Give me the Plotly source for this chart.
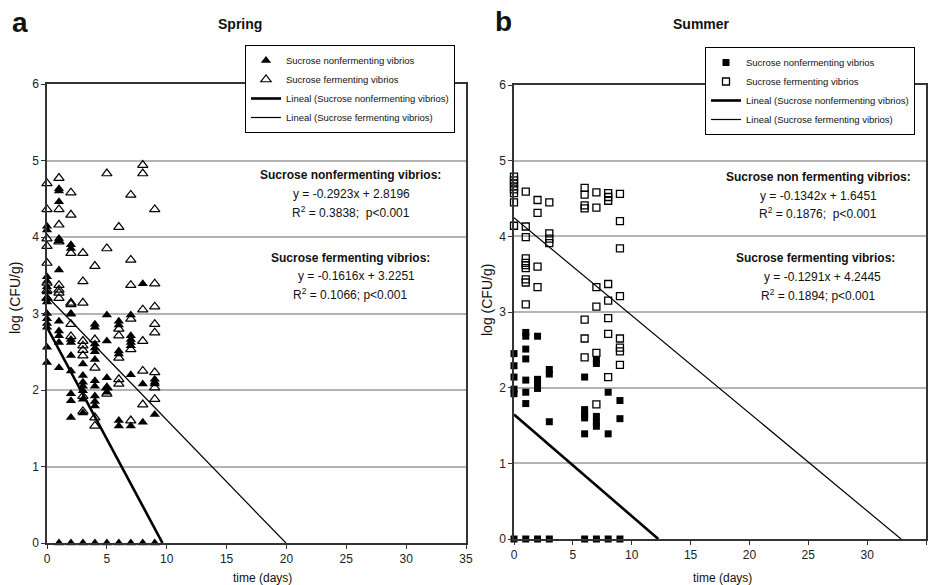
import plotly.graph_objects as go

# ---------------- DATA ----------------
# Panel a (Spring): sucrose nonfermenting vibrios (closed triangles)
spring_nonferm_day = (
    [0]*14 + [1]*12 + [2]*12 + [3]*8 + [4]*12 + [5]*6 + [6]*7 + [7]*8 + [8]*4 + [9]*5
)
spring_nonferm_log = [
    4.14, 4.09, 3.48, 3.42, 3.35, 3.28, 3.20, 3.15, 3.00, 2.93, 2.87, 2.82, 2.56, 2.36,
    4.63, 4.60, 4.46, 3.98, 3.95, 3.57, 2.90, 2.77, 2.71, 2.62, 2.29, 0,
    3.90, 3.85, 3.00, 2.99, 2.66, 2.62, 2.45, 2.25, 1.95, 1.86, 1.64, 0,
    2.34, 2.19, 2.10, 2.05, 1.99, 1.88, 1.70, 0,
    2.86, 2.82, 2.60, 2.55, 2.50, 2.40, 2.12, 2.05, 1.92, 1.85, 1.79, 0,
    2.98, 2.64, 2.16, 2.03, 1.97, 0,
    2.90, 2.85, 2.51, 2.47, 1.60, 1.53, 0,
    2.98, 2.71, 2.66, 2.62, 2.58, 2.20, 1.53, 0,
    3.39, 2.08, 1.58, 0,
    2.14, 2.10, 2.08, 1.68, 0,
]
# Panel a (Spring): sucrose fermenting vibrios (open triangles)
spring_ferm_day = (
    [0]*8 + [1]*8 + [2]*7 + [3]*9 + [4]*5 + [5]*4 + [6]*6 + [7]*6 + [8]*6 + [9]*8
)
spring_ferm_log = [
    4.70, 4.36, 3.98, 3.88, 3.66, 3.40, 3.30, 3.20,
    4.77, 4.36, 4.16, 3.94, 3.37, 3.31, 3.27, 3.20,
    4.58, 4.29, 3.79, 3.14, 3.12, 2.86, 2.70,
    3.79, 3.42, 3.14, 2.64, 2.58, 2.52, 2.45, 1.92, 1.72,
    3.62, 2.66, 2.29, 1.64, 1.53,
    4.83, 3.85, 2.03, 1.95,
    4.13, 2.80, 2.71, 2.42, 2.14, 2.08,
    4.55, 3.70, 3.37, 2.93, 2.53, 1.60,
    4.94, 4.83, 3.05, 2.64, 2.25, 1.81,
    4.36, 3.39, 3.09, 2.86, 2.75, 2.23, 2.03, 1.88,
]
# Panel b (Summer): sucrose nonfermenting vibrios (closed squares)
summer_nonferm_day = (
    [0]*6 + [1]*8 + [2]*5 + [3]*4 + [6]*6 + [7]*6 + [8]*3 + [9]*3
)
summer_nonferm_log = [
    2.45, 2.29, 2.14, 1.98, 1.92, 0,
    2.73, 2.68, 2.51, 2.38, 2.10, 1.94, 1.79, 0,
    2.68, 2.11, 2.06, 1.99, 0,
    2.24, 2.18, 1.55, 0,
    2.14, 1.71, 1.65, 1.60, 1.39, 0,
    2.37, 2.32, 1.62, 1.54, 1.49, 0,
    1.94, 1.39, 0,
    1.83, 1.59, 0,
]
# Panel b (Summer): sucrose fermenting vibrios (open squares)
summer_ferm_day = (
    [0]*8 + [1]*10 + [2]*4 + [3]*4 + [6]*7 + [7]*6 + [8]*8 + [9]*8
)
summer_ferm_log = [
    4.79, 4.74, 4.70, 4.66, 4.62, 4.57, 4.45, 4.14,
    4.59, 4.13, 3.99, 3.71, 3.65, 3.62, 3.58, 3.43, 3.39, 3.10,
    4.48, 4.31, 3.60, 3.33,
    4.45, 4.04, 3.97, 3.91,
    4.64, 4.55, 4.41, 4.37, 2.90, 2.65, 2.40,
    4.58, 4.38, 3.33, 3.07, 2.46, 1.78,
    4.57, 4.52, 4.47, 3.37, 3.15, 2.92, 2.71, 2.14,
    4.56, 4.20, 3.84, 3.21, 2.65, 2.53, 2.48, 2.30,
]

# Printed linear trend coefficients (slope, intercept)
spring_nonferm_fit = (-0.2923, 2.8196)
spring_ferm_fit = (-0.1616, 3.2251)
summer_nonferm_fit = (-0.1342, 1.6451)
summer_ferm_fit = (-0.1291, 4.2445)

x_ticks = [0, 5, 10, 15, 20, 25, 30, 35]
y_ticks = [0, 1, 2, 3, 4, 5, 6]

# ---------------- FIGURE ----------------
W, H = 930, 585
FONT = "Liberation Sans, Arial, sans-serif"


def px(x):
    return x / W


def py(y):
    return 1 - y / H


def trend(fit):
    m, b = fit
    x0, x1 = 0, -b / m
    return [x0, x1], [m * x0 + b, m * x1 + b]


fig = go.Figure()

# Panel a
fig.add_trace(go.Scatter(
    x=spring_nonferm_day, y=spring_nonferm_log, mode="markers",
    name="Sucrose nonfermenting vibrios",
    marker=dict(symbol="triangle-up", size=9, color="black"),
    xaxis="x", yaxis="y", legend="legend", cliponaxis=False))
fig.add_trace(go.Scatter(
    x=spring_ferm_day, y=spring_ferm_log, mode="markers",
    name="Sucrose fermenting vibrios",
    marker=dict(symbol="triangle-up-open", size=9, color="black", line=dict(width=1.2)),
    xaxis="x", yaxis="y", legend="legend", cliponaxis=False))
tx, ty = trend(spring_nonferm_fit)
fig.add_trace(go.Scatter(
    x=tx, y=ty, mode="lines", name="Lineal (Sucrose nonfermenting vibrios)",
    line=dict(color="black", width=2.6), xaxis="x", yaxis="y", legend="legend"))
tx, ty = trend(spring_ferm_fit)
fig.add_trace(go.Scatter(
    x=tx, y=ty, mode="lines", name="Lineal (Sucrose fermenting vibrios)",
    line=dict(color="black", width=1.2), xaxis="x", yaxis="y", legend="legend"))

# Panel b
fig.add_trace(go.Scatter(
    x=summer_nonferm_day, y=summer_nonferm_log, mode="markers",
    name="Sucrose nonfermenting vibrios",
    marker=dict(symbol="square", size=7, color="black"),
    xaxis="x2", yaxis="y2", legend="legend2", cliponaxis=False))
fig.add_trace(go.Scatter(
    x=summer_ferm_day, y=summer_ferm_log, mode="markers",
    name="Sucrose fermenting vibrios",
    marker=dict(symbol="square-open", size=7, color="black", line=dict(width=1.3)),
    xaxis="x2", yaxis="y2", legend="legend2", cliponaxis=False))
tx, ty = trend(summer_nonferm_fit)
fig.add_trace(go.Scatter(
    x=tx, y=ty, mode="lines", name="Lineal (Sucrose nonfermenting vibrios)",
    line=dict(color="black", width=2.6), xaxis="x2", yaxis="y2", legend="legend2"))
tx, ty = trend(summer_ferm_fit)
fig.add_trace(go.Scatter(
    x=tx, y=ty, mode="lines", name="Lineal (Sucrose fermenting vibrios)",
    line=dict(color="black", width=1.2), xaxis="x2", yaxis="y2", legend="legend2"))

axis_common = dict(
    showline=True, linecolor="#333333", linewidth=1.5, mirror=True,
    ticks="outside", ticklen=4, tickcolor="#333333", tickwidth=1,
    tickfont=dict(family=FONT, size=12, color="#222222"),
    zeroline=False, automargin=False,
)
xcommon = dict(axis_common, range=[0, 35], tickvals=x_ticks, showgrid=False)
ycommon = dict(axis_common, range=[0, 6], tickvals=y_ticks, showgrid=True,
               gridcolor="#b4b4b4", gridwidth=1.5)

legend_common = dict(
    bgcolor="white", bordercolor="black", borderwidth=1,
    font=dict(family=FONT, size=9.5, color="#111111"),
    xanchor="right", yanchor="top", tracegroupgap=0, itemwidth=30,
)

fig.update_layout(
    width=W, height=H,
    margin=dict(l=0, r=0, t=0, b=0, autoexpand=False),
    paper_bgcolor="white", plot_bgcolor="white",
    font=dict(family=FONT, color="#111111"),
    xaxis=dict(xcommon, domain=[px(47), px(466)], anchor="y"),
    yaxis=dict(ycommon, domain=[py(543), py(84)], anchor="x"),
    xaxis2=dict(xcommon, domain=[px(514), px(926)], anchor="y2"),
    yaxis2=dict(ycommon, domain=[py(539), py(85)], anchor="x2"),
    legend=dict(legend_common, x=px(455), y=py(45)),
    legend2=dict(legend_common, x=px(915), y=py(47)),
    showlegend=True,
)

ann = []


def text(x, y, s, size=12, bold=False, angle=0, xanchor="center"):
    if bold:
        s = "<b>" + s + "</b>"
    ann.append(dict(x=px(x), y=py(y), xref="paper", yref="paper", text=s,
                    showarrow=False, xanchor=xanchor, yanchor="middle",
                    textangle=angle,
                    font=dict(family=FONT, size=size, color="#111111")))


# Panel labels and titles
text(20, 23, "a", size=28, bold=True)
text(503, 22, "b", size=28, bold=True)
text(240, 24, "Spring", size=14, bold=True)
text(701, 24, "Summer", size=14, bold=True)

# Axis titles
text(15, 298, "log (CFU/g)", size=14, angle=-90)
text(487, 300, "log (CFU/g)", size=14, angle=-90)
text(262, 578, "time (days)", size=12)
text(722, 578, "time (days)", size=12)

# Regression text, panel a
text(350, 175, "Sucrose nonfermenting vibrios:", size=12, bold=True)
text(351, 194, "y = -0.2923x + 2.8196", size=12)
text(351, 212, "R<sup>2</sup> = 0.3838;  p&lt;0.001", size=12)
text(350, 258, "Sucrose fermenting vibrios:", size=12, bold=True)
text(356, 276, "y = -0.1616x + 3.2251", size=12)
text(350, 294, "R<sup>2</sup> = 0.1066; p&lt;0.001", size=12)

# Regression text, panel b
text(818, 177, "Sucrose non fermenting vibrios:", size=12, bold=True)
text(818, 196, "y = -0.1342x + 1.6451", size=12)
text(818, 213, "R<sup>2</sup> = 0.1876;  p&lt;0.001", size=12)
text(815, 258, "Sucrose fermenting vibrios:", size=12, bold=True)
text(822, 277, "y = -0.1291x + 4.2445", size=12)
text(818, 295, "R<sup>2</sup> = 0.1894; p&lt;0.001", size=12)

fig.update_layout(annotations=ann)

fig.write_html(
    "out.html",
    config={"displayModeBar": False},
    post_script="document.body.style.margin='0';document.body.style.overflow='hidden';",
)
